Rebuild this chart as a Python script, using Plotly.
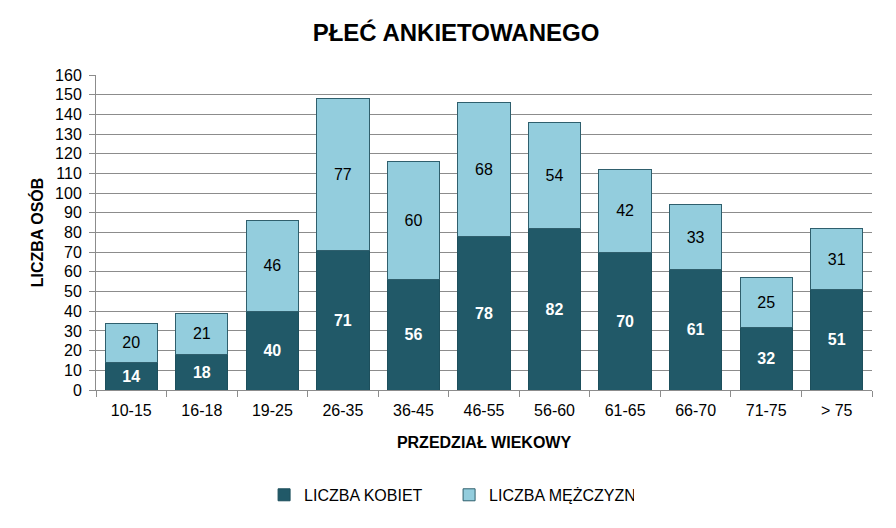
import plotly.graph_objects as go

# age ranges and counts
przedzialy = ["10-15", "16-18", "19-25", "26-35", "36-45", "46-55",
              "56-60", "61-65", "66-70", "71-75", "> 75"]
kobiety = [14, 18, 40, 71, 56, 78, 82, 70, 61, 32, 51]
mezczyzni = [20, 21, 46, 77, 60, 68, 54, 42, 33, 25, 31]

font_name = "Liberation Sans Narrow, Arial Narrow, Liberation Sans, sans-serif"

fig = go.Figure()
fig.add_trace(go.Bar(
    x=przedzialy, y=kobiety, name="LICZBA KOBIET",
    marker=dict(color="#215968", line=dict(color="#1d4f5c", width=1)),
    text=kobiety, textposition="inside", insidetextanchor="middle",
    textfont=dict(color="white", size=16, family=font_name, weight="bold"),
))
fig.add_trace(go.Bar(
    x=przedzialy, y=mezczyzni, name="LICZBA MĘŻCZYZN",
    marker=dict(color="#93cddd", line=dict(color="#2f5f6d", width=1)),
    text=mezczyzni, textposition="inside", insidetextanchor="middle",
    textfont=dict(color="black", size=16, family=font_name),
))

# page body has an 8px default margin, so margins are offset by 8
fig.update_layout(
    barmode="stack",
    bargap=0.26,
    width=896, height=528,
    margin=dict(l=88, r=32, t=67, b=146, autoexpand=False),
    paper_bgcolor="white", plot_bgcolor="white",
    font=dict(family=font_name, size=16, color="black"),
    title=dict(text="<b>PŁEĆ ANKIETOWANEGO</b>", x=0.5, xanchor="center",
               y=0.953, yanchor="middle", font=dict(size=24)),
    uniformtext=dict(mode="show", minsize=10),
    legend=dict(orientation="h", x=0.455, xanchor="center", y=-0.333, yanchor="middle",
                font=dict(size=16), traceorder="normal", itemwidth=30,
                entrywidth=140),
)
fig.update_yaxes(
    range=[0, 160], dtick=10, showgrid=True, gridcolor="#8c8c8c", gridwidth=1,
    showline=True, linecolor="#8c8c8c", ticks="outside", ticklen=6,
    tickcolor="#8c8c8c", zeroline=False, tickfont=dict(size=16), automargin=False,
    ticklabelstandoff=4,
    title=dict(text="<b>LICZBA OSÓB</b>", font=dict(size=16), standoff=7),
)
fig.update_xaxes(
    showline=True, linecolor="#8c8c8c", ticks="outside", ticklen=6,
    tickcolor="#8c8c8c", tickson="boundaries", tickfont=dict(size=16), automargin=False,
    ticklabelstandoff=6,
    title=dict(text="<b>PRZEDZIAŁ WIEKOWY</b>", font=dict(size=16), standoff=18),
)

fig.write_html("out.html")
